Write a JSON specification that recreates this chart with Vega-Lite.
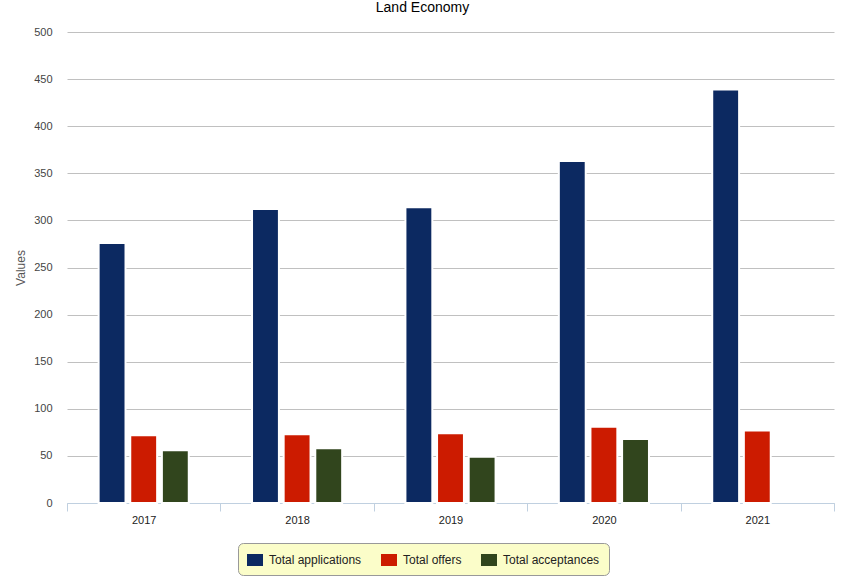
{
  "$schema": "https://vega.github.io/schema/vega-lite/v6.json",
  "autosize": {"type": "none"},
  "width": 767,
  "height": 471,
  "padding": {"left": 67, "top": 32, "right": 29, "bottom": 84},
  "background": "white",
  "title": {
    "text": "Land Economy",
    "fontSize": 14,
    "font": "Liberation Sans",
    "fontWeight": "normal",
    "color": "#000000",
    "anchor": "middle",
    "offset": 11,
    "dx": -28
  },
  "data": {
    "values": [
      {"year": "2017", "series": "Total applications", "value": 276},
      {"year": "2017", "series": "Total offers", "value": 72},
      {"year": "2017", "series": "Total acceptances", "value": 56},
      {"year": "2018", "series": "Total applications", "value": 312},
      {"year": "2018", "series": "Total offers", "value": 73},
      {"year": "2018", "series": "Total acceptances", "value": 58},
      {"year": "2019", "series": "Total applications", "value": 314},
      {"year": "2019", "series": "Total offers", "value": 74},
      {"year": "2019", "series": "Total acceptances", "value": 49},
      {"year": "2020", "series": "Total applications", "value": 363},
      {"year": "2020", "series": "Total offers", "value": 81},
      {"year": "2020", "series": "Total acceptances", "value": 68},
      {"year": "2021", "series": "Total applications", "value": 439},
      {"year": "2021", "series": "Total offers", "value": 77}
    ]
  },
  "mark": {"type": "bar", "stroke": "white", "strokeWidth": 2},
  "encoding": {
    "x": {
      "field": "year",
      "type": "nominal",
      "scale": {"paddingInner": 0, "paddingOuter": 0},
      "axis": {
        "title": null,
        "labelAngle": 0,
        "labelFont": "Liberation Sans",
        "labelFontSize": 11,
        "labelColor": "#222222",
        "labelPadding": 3,
        "domainColor": "#c0d0e0",
        "tickColor": "#c0d0e0",
        "tickSize": 8,
        "tickBand": "extent",
        "grid": false
      }
    },
    "xOffset": {
      "field": "series",
      "type": "nominal",
      "sort": ["Total applications", "Total offers", "Total acceptances"],
      "scale": {
        "domain": ["Total applications", "Total offers", "Total acceptances"],
        "paddingInner": 0.15,
        "paddingOuter": 1.1
      }
    },
    "y": {
      "field": "value",
      "type": "quantitative",
      "scale": {"domain": [0, 500], "nice": false},
      "axis": {
        "title": "Values",
        "titleFont": "Liberation Sans",
        "titleFontSize": 12,
        "titleFontWeight": "normal",
        "titleColor": "#555555",
        "titlePadding": 6,
        "values": [0, 50, 100, 150, 200, 250, 300, 350, 400, 450, 500],
        "labelFont": "Liberation Sans",
        "labelFontSize": 11,
        "labelColor": "#444444",
        "labelPadding": 15,
        "domain": false,
        "ticks": false,
        "grid": true,
        "gridColor": "#c0c0c0",
        "gridWidth": 1
      }
    },
    "color": {
      "field": "series",
      "type": "nominal",
      "sort": ["Total applications", "Total offers", "Total acceptances"],
      "scale": {
        "domain": ["Total applications", "Total offers", "Total acceptances"],
        "range": ["#0c2961", "#cc1b00", "#31451d"]
      },
      "legend": {
        "title": null,
        "orient": "none",
        "direction": "horizontal",
        "legendX": 171,
        "legendY": 511,
        "fillColor": "#fbfdc9",
        "strokeColor": "#999999",
        "cornerRadius": 5,
        "padding": 9,
        "columnPadding": 19,
        "labelOffset": 6,
        "labelFont": "Liberation Sans",
        "labelFontSize": 12,
        "labelColor": "#222222",
        "symbolType": "M-1,-0.75H1V0.75H-1Z",
        "symbolSize": 256,
        "symbolStrokeWidth": 0,
        "symbolOpacity": 1
      }
    }
  },
  "config": {
    "view": {"stroke": null},
    "font": "Liberation Sans"
  }
}
